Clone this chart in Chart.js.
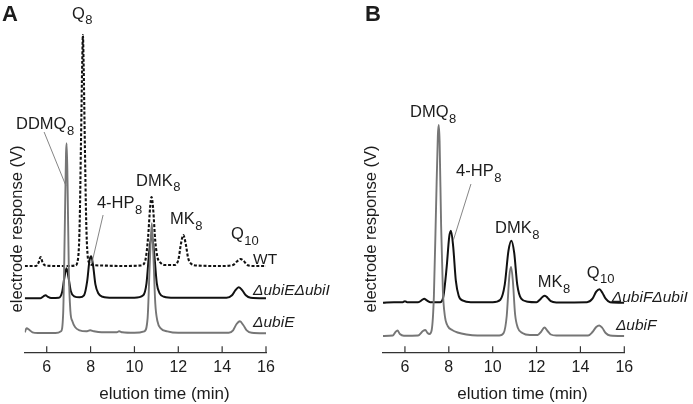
<!DOCTYPE html>
<html><head><meta charset="utf-8">
<script src="https://cdn.jsdelivr.net/npm/chart.js@4/dist/chart.umd.min.js"></script>
<style>
html,body{margin:0;padding:0;background:#fff;width:693px;height:404px;overflow:hidden}
#wrapA{position:absolute;left:0;top:0;width:346px;height:404px}
#wrapB{position:absolute;left:346px;top:0;width:347px;height:404px}
</style></head><body>
<div id="wrapA"><canvas id="cA" width="346" height="404"></canvas></div>
<div id="wrapB"><canvas id="cB" width="347" height="404"></canvas></div>
<script>
// ---------- data ----------
const tickLabels = [6, 8, 10, 12, 14, 16];

// Panel A: WT (dashed)
const wtTime = [5.0,5.5,5.62,5.72,5.82,5.95,6.5,7.0,7.3,7.42,7.5,7.56,7.62,7.65,7.68,7.74,7.8,7.86,7.95,8.1,8.5,9.5,10.3,10.5,10.62,10.72,10.78,10.85,10.95,11.05,11.2,11.4,11.8,12.0,12.12,12.23,12.34,12.45,12.6,12.8,14.0,14.5,14.7,14.84,14.98,15.15,15.4,16.0];
const wtResp = [0,0,3,9,3,0.5,0,0,0.5,6,40,120,205,231,205,120,45,12,3,1,0.5,0,0.5,6,28,60,69,58,25,9,3,1,1,6,22,31,22,8,2,0.5,0,1,5,7,5,1,0,0];
// Panel A: ΔubiEΔubiI (black)
const ubiEubiITime = [5.0,5.7,5.85,5.95,6.05,6.2,6.55,6.7,6.8,6.9,7.0,7.1,7.25,7.5,7.7,7.85,7.95,8.03,8.12,8.22,8.35,8.55,9.0,10.0,10.4,10.55,10.68,10.79,10.9,11.02,11.15,11.35,11.8,14.2,14.45,14.6,14.76,14.92,15.08,15.3,16.0];
const ubiEubiIResp = [0,0,2,3,1.5,0.3,0.5,6,20,30,20,7,2,1,3,18,38,42,32,14,5,1.5,0.5,0.5,3,15,48,63,45,15,5,1.5,0.5,0.5,3,8,11,8,3,0.5,0];
// Panel A: ΔubiE (grey)
const ubiETime = [5.0,5.08,5.2,5.35,5.6,6.4,6.65,6.75,6.82,6.88,6.91,6.95,7.01,7.08,7.17,7.3,7.5,7.8,7.98,8.15,8.5,9.2,9.3,9.45,10.0,10.45,10.6,10.7,10.79,10.86,10.95,11.05,11.2,11.5,12.0,14.3,14.5,14.65,14.81,14.97,15.12,15.35,16.0];
const ubiEResp = [1,5,3.5,1,0.3,0.3,2,20,100,180,190,150,60,22,12,6,3,2,3,2,1,1,2,1,0.5,2,15,70,110,80,30,12,5,2,0.5,0.5,3,9,12,8,3,0.5,0];

// Panel B: ΔubiFΔubiI (black)
const ubiFubiITime = [5.0,5.5,5.9,6.0,6.1,6.6,6.8,6.88,6.98,7.15,7.6,7.75,7.9,8.02,8.1,8.2,8.32,8.45,8.65,9.0,10.0,10.35,10.55,10.72,10.85,10.98,11.12,11.3,11.6,12.0,12.15,12.28,12.38,12.5,12.65,12.9,14.3,14.55,14.72,14.87,15.0,15.15,15.35,16.0];
const ubiFubiIResp = [0,0.5,0.5,1.5,0.5,0.5,3,4,2.5,0.5,0.5,6,35,66,72,56,22,7,2,0.5,0.5,3,18,52,62,50,18,4,1,0.5,3,6,7,5,1.5,0.3,0.5,4,11,13.5,10,4,0.5,0];
// Panel B: ΔubiF (grey)
const ubiFTime = [5.0,5.45,5.57,5.66,5.77,5.95,6.6,6.82,6.93,7.03,7.12,7.22,7.32,7.42,7.5,7.54,7.58,7.65,7.73,7.82,7.95,8.15,8.4,8.8,9.3,10.3,10.5,10.64,10.76,10.84,10.92,11.02,11.15,11.35,11.7,12.05,12.2,12.36,12.5,12.65,12.9,14.35,14.55,14.72,14.86,15.0,15.15,15.35,16.0];
const ubiFResp = [0,0.5,4,5.5,2,0.3,0.5,5,6,3,2,6,40,130,200,211,195,110,45,20,10,6,3.5,1.5,0.5,0.5,3,20,60,69,55,22,8,3,1,1,4,8.5,5,1.5,0.5,0.5,4,9,10.5,8,3,0.5,0];

// vertical stacking offsets of the traces (response units)
const offsetsA = {wt: 86.7, ubiEubiI: 54.4, ubiE: 19.4};
const offsetsB = {ubiFubiI: 50.0, ubiF: 16.7};

// peak labels
const peakNamesA = ['DDMQ', 'Q', '4-HP', 'DMK', 'MK', 'Q'];
const peakSubsA  = ['8', '8', '8', '8', '8', '10'];
const traceNamesA = ['WT', 'ΔubiEΔubiI', 'ΔubiE'];
const peakNamesB = ['DMQ', '4-HP', 'DMK', 'MK', 'Q'];
const peakSubsB  = ['8', '8', '8', '8', '10'];
const traceNamesB = ['ΔubiFΔubiI', 'ΔubiF'];

// ---------- drawing ----------
const FONT = '"Liberation Sans", Arial, Helvetica, sans-serif';
const TXT = '#1c1c1c';

function pts(t, r, off) { return t.map((x, i) => ({x: x, y: r[i] + off})); }

function overlay(opt) {
  return {
    id: 'overlay',
    afterDraw(chart) {
      const ctx = chart.ctx, xs = chart.scales.x, ys = chart.scales.y, a = chart.chartArea;
      const P = (t, r) => [xs.getPixelForValue(t), ys.getPixelForValue(r)];
      ctx.save();
      // inward tick marks
      ctx.strokeStyle = '#333'; ctx.lineWidth = 1.2;
      tickLabels.forEach(v => {
        const px = xs.getPixelForValue(v);
        ctx.beginPath(); ctx.moveTo(px, a.bottom); ctx.lineTo(px, a.bottom - 6.5); ctx.stroke();
      });
      // leader lines
      ctx.strokeStyle = '#777'; ctx.lineWidth = 0.9;
      opt.leaders.forEach(l => {
        const p1 = P(l[0][0], l[0][1]), p2 = P(l[1][0], l[1][1]);
        ctx.beginPath(); ctx.moveTo(p1[0], p1[1]); ctx.lineTo(p2[0], p2[1]); ctx.stroke();
      });
      ctx.fillStyle = TXT; ctx.textBaseline = 'alphabetic'; ctx.textAlign = 'left';
      // peak labels with subscripts
      opt.peakNames.forEach((n, i) => {
        const p = P(opt.peakPos[i][0], opt.peakPos[i][1]);
        ctx.font = '16.5px ' + FONT;
        ctx.fillText(n, p[0], p[1]);
        const w = ctx.measureText(n).width;
        ctx.font = '13px ' + FONT;
        ctx.fillText(opt.peakSubs[i], p[0] + w + 0.5, p[1] + 5.5);
      });
      // trace names
      opt.traceNames.forEach((n, i) => {
        const p = P(opt.tracePos[i][0], opt.tracePos[i][1]);
        ctx.font = (opt.traceItalic[i] ? 'italic ' : '') + '15.5px ' + FONT;
        ctx.fillText(n, p[0], p[1]);
      });
      // x axis title
      ctx.font = '17px ' + FONT; ctx.textAlign = 'center';
      ctx.fillText('elution time (min)', xs.getPixelForValue(opt.xTitleCenter), 398.5);
      // y axis title
      ctx.save();
      ctx.translate(opt.yTitleX, 229); ctx.rotate(-Math.PI / 2);
      ctx.font = '16.5px ' + FONT; ctx.textBaseline = 'middle';
      ctx.fillText('electrode response (V)', 0, 0);
      ctx.restore();
      // panel letter
      ctx.font = 'bold 22px ' + FONT; ctx.textAlign = 'left';
      ctx.fillText(opt.letter, opt.letterX, 21);
      ctx.restore();
    }
  };
}

function makeChart(id, datasets, padL, padR, opt) {
  return new Chart(document.getElementById(id), {
    type: 'line',
    data: {datasets: datasets},
    options: {
      responsive: false, animation: false, devicePixelRatio: 1,
      layout: {padding: {left: padL, right: padR, top: 12.7, bottom: 0}},
      plugins: {legend: {display: false}, tooltip: {enabled: false}},
      elements: {point: {radius: 0}, line: {cubicInterpolationMode: 'monotone'}},
      scales: {
        x: {
          type: 'linear', min: 5, max: 16,
          afterBuildTicks: s => { s.ticks = tickLabels.map(v => ({value: v})); },
          afterFit: s => { s.height = 51.3; },
          grid: {display: false},
          border: {display: true, color: '#333', width: 1.3},
          ticks: {padding: -3, color: TXT, font: {family: FONT, size: 16}}
        },
        y: {type: 'linear', min: 0, max: 340, display: false}
      }
    },
    plugins: [overlay(opt)]
  });
}

const dashed = {borderColor: '#111', borderWidth: 2.1, borderDash: [3, 1.8], fill: false};
const black = {borderColor: '#111', borderWidth: 2, fill: false};
const grey = {borderColor: '#767676', borderWidth: 1.9, fill: false};

makeChart('cA', [
  Object.assign({label: 'ΔubiE', data: pts(ubiETime, ubiEResp, offsetsA.ubiE)}, grey),
  Object.assign({label: 'ΔubiEΔubiI', data: pts(ubiEubiITime, ubiEubiIResp, offsetsA.ubiEubiI)}, black),
  Object.assign({label: 'WT', data: pts(wtTime, wtResp, offsetsA.wt)}, dashed)
], 24.8, 80, {
  letter: 'A', letterX: 2, yTitleX: 17, xTitleCenter: 11.37,
  peakNames: peakNamesA, peakSubs: peakSubsA,
  peakPos: [[4.60, 223.7], [7.15, 334.2], [8.29, 144.7], [10.07, 167.2], [11.62, 128.7], [14.40, 113.7]],
  traceNames: traceNamesA, traceItalic: [false, true, true],
  tracePos: [[15.41, 88.7], [15.41, 57.7], [15.41, 25.7]],
  leaders: [[[5.88, 220.7], [6.88, 166.7]], [[8.57, 137.7], [8.06, 89.7]]]
});

makeChart('cB', [
  Object.assign({label: 'ΔubiF', data: pts(ubiFTime, ubiFResp, offsetsB.ubiF)}, grey),
  Object.assign({label: 'ΔubiFΔubiI', data: pts(ubiFubiITime, ubiFubiIResp, offsetsB.ubiFubiI)}, black)
], 37, 68.7, {
  letter: 'B', letterX: 19, yTitleX: 25, xTitleCenter: 11.36,
  peakNames: peakNamesB, peakSubs: peakSubsB,
  peakPos: [[6.23, 235.7], [8.33, 176.7], [10.11, 119.7], [12.05, 65.4], [14.29, 74.9]],
  traceNames: traceNamesB, traceItalic: [true, true],
  tracePos: [[15.43, 51.2], [15.62, 22.7]],
  leaders: [[[9.01, 168.7], [8.21, 112.7]]]
});
</script>
</body></html>
